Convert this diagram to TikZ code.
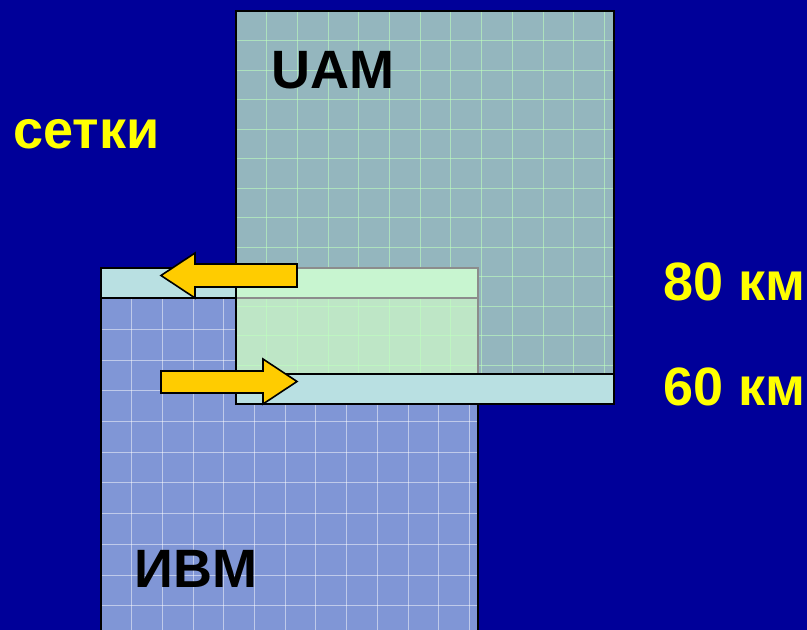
\documentclass[tikz,border=0pt]{standalone}
\usepackage{fontspec}
\setmainfont{Liberation Sans}
\usetikzlibrary{arrows.meta}
\definecolor{bgblue}{RGB}{0,0,153}
\definecolor{ivmfill}{RGB}{128,150,214}
\definecolor{uamfill}{RGB}{148,182,190}
\definecolor{overlapfill}{RGB}{190,230,198}
\definecolor{overlapstrip}{RGB}{200,245,208}
\definecolor{stripfill}{RGB}{185,224,226}
\definecolor{arrowfill}{RGB}{255,204,0}
\definecolor{txtyellow}{RGB}{255,255,0}

\begin{document}
\begin{tikzpicture}[x=1pt,y=-1pt,
  boxline/.style={draw=black,line width=2pt},
  ivmgrid/.style={draw=white,opacity=0.5,line width=1pt},
  uamgrid/.style={draw=green!25!white,opacity=0.6,line width=1pt},
  strip/.style={fill=stripfill,draw=black,line width=2pt},
  fatarrow/.style={fill=arrowfill,draw=black,line width=1.6pt,line join=miter},
  lbl/.style={inner sep=0pt,anchor=base west,font=\fontsize{54}{62}\selectfont\bfseries}]
\fill[bgblue] (0,0) rectangle (807,630);
\useasboundingbox (0,0) rectangle (807,630);
% lower grid (ИВМ)
\begin{scope}
\clip (101,268) rectangle (478,630);
\fill[ivmfill] (101,268) rectangle (478,630);
\foreach \i in {1,...,12} \draw[ivmgrid] ({101+30.7*\i},268) -- ++(0,362);
\foreach \j in {1,...,11} \draw[ivmgrid] (101,{268+30.7*\j}) -- ++(377,0);
\end{scope}
\draw[boxline] (101,632) -- (101,268) -- (478,268) -- (478,632);
% upper grid (UAM)
\begin{scope}
\clip (236,11) rectangle (614,404);
\fill[uamfill] (236,11) rectangle (614,404);
\foreach \i in {1,...,12} \draw[uamgrid] ({236+30.7*\i},11) -- ++(0,393);
\foreach \j in {1,...,12} \draw[uamgrid] (236,{11+29.5*\j}) -- ++(378,0);
\end{scope}
\draw[boxline] (236,11) rectangle (614,404);
% overlap
\begin{scope}
\clip (236,268) rectangle (478,374);
\fill[overlapfill] (236,268) rectangle (478,374);
\foreach \i in {1,...,8} \draw[uamgrid] ({236+30.7*\i},268) -- ++(0,106);
\foreach \j in {9,...,12} \draw[uamgrid] (236,{11+29.5*\j}) -- ++(242,0);
\fill[overlapstrip] (236,268) rectangle (478,298);
\draw[black!45,line width=1.2pt] (236,298) -- (478,298);
\end{scope}
\draw[black!45,line width=1.2pt] (236,268) -- (478,268) -- (478,374);
% strips
\draw[strip] (101,268) rectangle (236,298);
\draw[boxline] (236,268) -- (236,404);
\draw[strip] (236,374) rectangle (614,404);
% arrows
\draw[fatarrow] (297,264) -- (195,264) -- (195,253) -- (161,275.5) -- (195,298)
  -- (195,287) -- (297,287) -- cycle;
\draw[fatarrow] (161,371) -- (263,371) -- (263,359) -- (297,381.5) -- (263,404)
  -- (263,393) -- (161,393) -- cycle;
% labels
\node[lbl] (uam) at (271,88) {UAM};
\node[lbl] (ivm) at (134,587) {ИВМ};
\node[lbl,text=txtyellow] (setki) at (13,148) {сетки};
\node[lbl,text=txtyellow] (km80) at (663,300) {80 км};
\node[lbl,text=txtyellow] (km60) at (663,405) {60 км};
\end{tikzpicture}
\end{document}
